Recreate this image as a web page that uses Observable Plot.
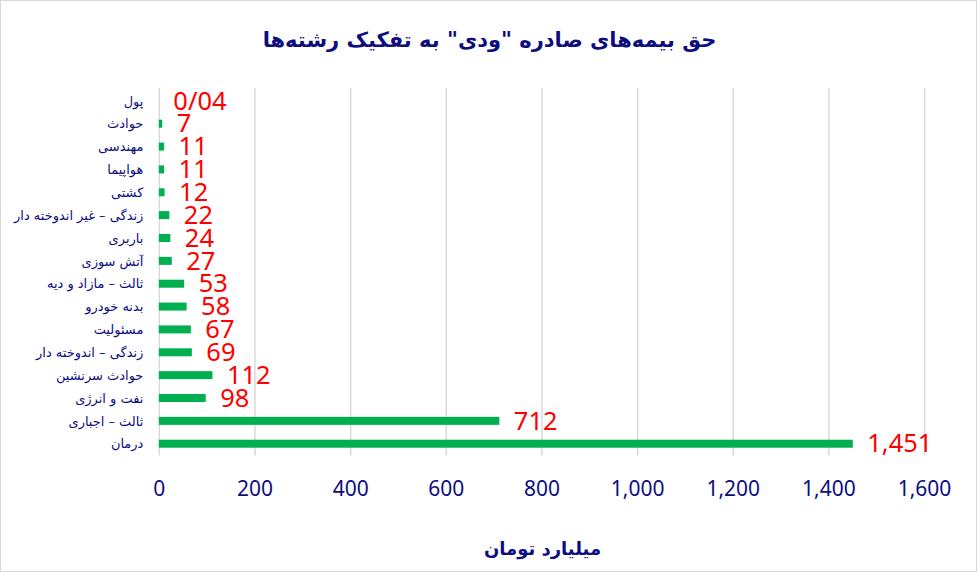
<!DOCTYPE html>
<html>
<head>
<meta charset="utf-8">
<script src="https://cdn.jsdelivr.net/npm/d3@7"></script>
<script src="https://cdn.jsdelivr.net/npm/@observablehq/plot@0.6"></script>
<style>
  html, body { margin: 0; padding: 0; background: #fff; }
  #wrap { position: relative; width: 977px; height: 572px; box-sizing: border-box; border: 1px solid #d9d9d9; overflow: hidden; background: #fff; }
  #title { position: absolute; left: 0; top: 27px; width: 977px; text-align: center; direction: rtl;
           font-family: "DejaVu Sans", sans-serif; font-weight: bold; font-size: 21px; color: #0d0d80; }
  #xlabel { position: absolute; left: 158px; width: 767px; top: 537px; text-align: center; direction: rtl;
           font-family: "DejaVu Sans", sans-serif; font-weight: bold; font-size: 18px; color: #0d0d80; }
  #chart { position: absolute; left: -1px; top: 69px; }
</style>
</head>
<body>
<div id="wrap">
  <div id="title">حق بیمه‌های صادره "ودی" به تفکیک رشته‌ها</div>
  <div id="chart"></div>
  <div id="xlabel">میلیارد تومان</div>
</div>
<script>
const categories = [
  "پول", "حوادث", "مهندسی", "هواپیما", "کشتی", "زندگی – غیر اندوخته دار",
  "باربری", "آتش سوزی", "ثالث – مازاد و دیه", "بدنه خودرو", "مسئولیت",
  "زندگی – اندوخته دار", "حوادث سرنشین", "نفت و انرژی", "ثالث – اجباری", "درمان"
];
const values = [0.04, 7, 11, 11, 12, 22, 24, 27, 53, 58, 67, 69, 112, 98, 712, 1451];
const valueLabels = ["0/04", "7", "11", "11", "12", "22", "24", "27", "53", "58", "67", "69", "112", "98", "712", "1,451"];
const xTicks = [0, 200, 400, 600, 800, 1000, 1200, 1400, 1600];

const data = categories.map((c, i) => ({ cat: c, value: values[i], label: valueLabels[i] }));
const navy = "#0d0d80";

const plot = Plot.plot({
  width: 977,
  height: 430,
  marginLeft: 159,
  marginRight: 52,
  marginTop: 12,
  marginBottom: 37,
  style: { background: "transparent", overflow: "visible" },
  x: { domain: [0, 1600], ticks: xTicks, tickFormat: d3.format(",") },
  y: { domain: categories, padding: 0.65, round: false },
  marks: [
    Plot.gridX(xTicks, { stroke: "#d9d9d9", strokeOpacity: 1, strokeWidth: 1.5, insetTop: 6, insetBottom: 7 }),
    Plot.barX(data, { x: "value", y: "cat", fill: "#00b050" }),
    Plot.text(data, { x: "value", y: "cat", text: "label", dx: 14, textAnchor: "start",
      fill: "#ff0000", fontSize: 25.5, fontFamily: "Noto Sans, sans-serif" }),
    Plot.axisX({ ticks: xTicks, tickFormat: d3.format(","), tickSize: 0, tickPadding: 18,
      fontSize: 21, fill: navy, fontFamily: "Noto Sans, sans-serif", label: null }),
    Plot.axisY({ tickSize: 0, tickPadding: 16, fontSize: 13, fill: navy,
      fontFamily: "DejaVu Sans, sans-serif", label: null })
  ]
});
document.getElementById("chart").appendChild(plot);
</script>
</body>
</html>
